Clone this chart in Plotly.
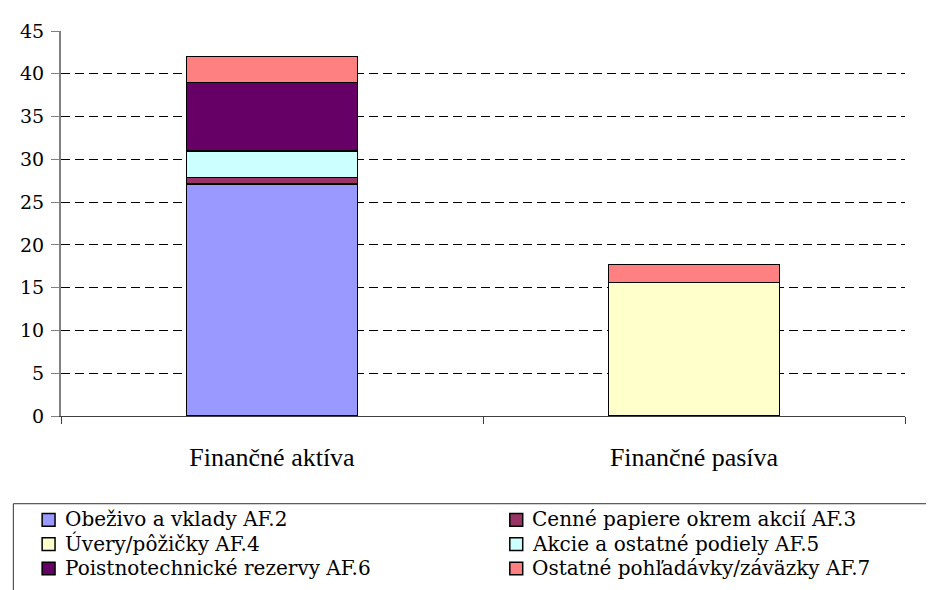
import plotly.graph_objects as go

categories = ["Finančné aktíva", "Finančné pasíva"]
series_names = [
    "Obeživo a vklady AF.2",
    "Cenné papiere okrem akcií AF.3",
    "Úvery/pôžičky AF.4",
    "Akcie a ostatné podiely AF.5",
    "Poistnotechnické rezervy AF.6",
    "Ostatné pohľadávky/záväzky AF.7",
]
af2 = [27.1, 0]
af3 = [0.8, 0]
af4 = [0, 15.6]
af5 = [3.1, 0]
af6 = [8.0, 0]
af7 = [3.0, 2.1]
series_values = [af2, af3, af4, af5, af6, af7]
series_colors = ["#9999FF", "#993366", "#FFFFCC", "#CCFFFF", "#660066", "#FF8080"]
y_ticks = [0, 5, 10, 15, 20, 25, 30, 35, 40, 45]

OFF = 8  # page body margin offset
W, H = 934 - OFF, 590 - OFF
L, R, T, B = 55 - OFF, 29, 21 - OFF, 174
PW, PH = W - L - R, H - T - B

def px2x(px):
    return (px - OFF - L) / PW

def py2y(py):
    return (H - B - (py - OFF)) / PH

XFONT = "'Liberation Serif'"
SFONT = "DejaVu Serif"

fig = go.Figure()
for name, vals, col in zip(series_names, series_values, series_colors):
    fig.add_trace(go.Bar(
        x=categories, y=vals, name=name,
        marker=dict(color=col, line=dict(color="black", width=1.5)),
        showlegend=False,
    ))

# legend drawn as text annotations with square keys (two columns, row-major)
col_sym_x = [36, 507]
col_txt_x = [59, 529]
row_y = [522, 547, 572]
shapes = [dict(type="rect", xref="paper", yref="paper",
               x0=px2x(7), x1=px2x(960), y0=py2y(506), y1=py2y(620),
               line=dict(color="#333333", width=1), fillcolor="rgba(0,0,0,0)", layer="above")]
annotations = []
for i, (name, col) in enumerate(zip(series_names, series_colors)):
    r, c = divmod(i, 2)
    cy = row_y[r]
    shapes.append(dict(type="rect", xref="paper", yref="paper",
                       x0=px2x(col_sym_x[c]), x1=px2x(col_sym_x[c] + 13),
                       y0=py2y(cy + 7), y1=py2y(cy - 6),
                       fillcolor=col, line=dict(color="black", width=1.5), layer="above"))
    annotations.append(dict(text=name, xref="paper", yref="paper",
                            x=px2x(col_txt_x[c] - 2), y=py2y(cy), xanchor="left", yanchor="middle",
                            showarrow=False, font=dict(family=SFONT, size=20, color="black")))

fig.update_layout(
    width=W, height=H, autosize=False,
    margin=dict(l=L, r=R, t=T, b=B, pad=0),
    paper_bgcolor="white", plot_bgcolor="white",
    barmode="stack", bargap=0.595,
    showlegend=False,
    font=dict(family="Liberation Serif", color="black"),
    shapes=shapes, annotations=annotations,
)
fig.update_xaxes(
    showline=True, linecolor="#404040", linewidth=1,
    ticks="outside", tickson="boundaries", ticklen=7, tickcolor="#404040",
    tickfont=dict(family=XFONT, size=26, color="black"),
    ticklabelstandoff=18, showgrid=False, zeroline=False,
)
fig.update_yaxes(
    range=[0, 45], tickvals=y_ticks, ticktext=[str(v) for v in y_ticks],
    showgrid=True, gridcolor="black", gridwidth=1, griddash="9px,5px",
    showline=True, linecolor="#808080", linewidth=2,
    ticks="outside", ticklen=8, tickcolor="#808080",
    tickfont=dict(family=SFONT, size=19, color="black"),
    ticklabelstandoff=3, zeroline=False,
)

fig.write_html("out.html")
